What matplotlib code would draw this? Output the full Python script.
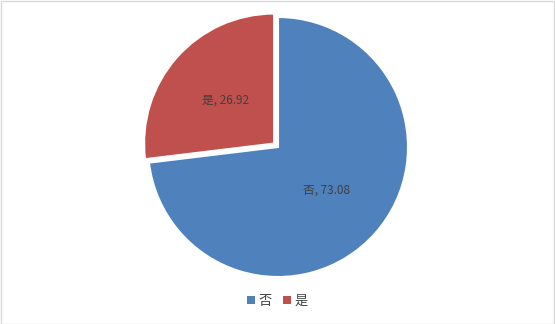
import matplotlib
matplotlib.use("Agg")
import matplotlib.pyplot as plt
from matplotlib.patches import Rectangle, Patch

plt.rcParams['font.family'] = ['Noto Sans CJK SC', 'DejaVu Sans']

categories = ['否', '是']
values = [73.08, 26.92]
colors = ['#4F81BD', '#C0504D']
text_color = '#404040'

W, H = 555, 324
fig = plt.figure(figsize=(W / 100, H / 100), dpi=100)

cx, cy, r = 278, 147, 130
lim = 1.2
side = 2 * lim * r
ax = fig.add_axes([(cx - side / 2) / W, (H - cy - side / 2) / H, side / W, side / H])

wedges, texts = ax.pie(values, colors=colors, startangle=90, counterclock=False,
                       explode=[0, 0.04], labels=[f'{c}, {v:.2f}' for c, v in zip(categories, values)],
                       labeldistance=0.5,
                       wedgeprops=dict(edgecolor='white', linewidth=1.5),
                       textprops=dict(color=text_color, fontsize=8.5, ha='center', va='center'))
ax.set_xlim(-lim, lim)
ax.set_ylim(-lim, lim)
ax.set_aspect('equal')
ax.axis('off')

handles = [Patch(facecolor=c, edgecolor='none') for c in colors]
leg = fig.legend(handles, categories, loc='center', bbox_to_anchor=(0.5, 1 - 301 / H), ncol=2,
                 frameon=False, handlelength=0.6, handleheight=0.6, handletextpad=0.3,
                 columnspacing=0.8, prop=dict(size=9.5))
for t in leg.get_texts():
    t.set_color(text_color)

fig.patches.append(Rectangle((0.5 / W, 0.5 / H), 1 - 1.5 / W, 1 - 1.5 / H, transform=fig.transFigure,
                             fill=False, edgecolor='#D9D9D9', linewidth=1))

fig.savefig('out.png', dpi=100)
